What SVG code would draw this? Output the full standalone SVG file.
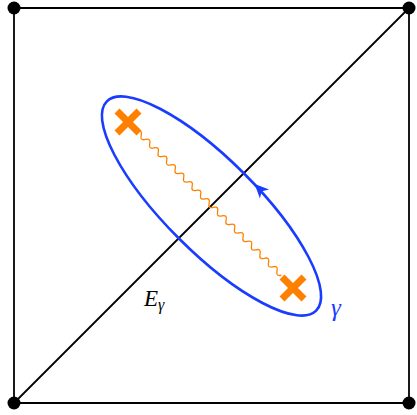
<svg xmlns="http://www.w3.org/2000/svg" width="417" height="415" viewBox="0 0 417 415">
<style>
.edge{stroke:#000;stroke-width:1.8;fill:none}
.dot{fill:#000}
.loop{stroke:#1a3cff;stroke-width:2.6;fill:none}
.cross{stroke:#ff8000;stroke-width:7;fill:none}
.wave{stroke:#ff8000;stroke-width:1.3;fill:none}
.lbl{font-family:"Liberation Serif","DejaVu Serif",serif;font-style:italic}
</style>
<rect width="417" height="415" fill="#fff"/>
<g id="connectors">
<line class="edge" x1="14" y1="8" x2="409" y2="8"/>
<line class="edge" x1="409" y1="8" x2="409" y2="403"/>
<line class="edge" x1="409" y1="403" x2="14" y2="403"/>
<line class="edge" x1="14" y1="403" x2="14" y2="8"/>
<line class="edge" x1="14" y1="403" x2="409" y2="8"/>
<g transform="translate(137,131) rotate(45)">
<path class="wave" d="M0,0 Q3,-5 6,0 t6,0 t6,0 t6,0 t6,0 t6,0 t6,0 t6,0 t6,0 t6,0 t6,0 t6,0 t6,0 t6,0 t6,0 t6,0 t6,0 t6,0 t6,0 t6,0 t6,0 t6,0 t6,0 t6,0 t6,0 t6,0 t6,0 t6,0 t6,0 t6,0 t6,0 t6,0 t6,0 t6,0"/>
</g>
</g>
<g id="corner-tl"><circle class="dot" cx="14" cy="8" r="6.5"/></g>
<g id="corner-tr"><circle class="dot" cx="409" cy="8" r="6.5"/></g>
<g id="corner-bl"><circle class="dot" cx="14" cy="403" r="6.5"/></g>
<g id="corner-br"><circle class="dot" cx="409" cy="403" r="6.5"/></g>
<g id="gamma-loop">
<g transform="translate(211.5,206) rotate(45)">
<ellipse class="loop" cx="0" cy="0" rx="148" ry="46"/>
<path d="M15,-46 L29,-52.5 L25,-46 L29,-39.5 Z" fill="#1a3cff"/>
</g>
<text class="lbl" x="331" y="316" font-size="25" fill="#1a3cff">γ</text>
</g>
<g id="cross-1">
<path class="cross" d="M117,111 L139,133 M139,111 L117,133"/>
</g>
<g id="cross-2">
<path class="cross" d="M282,277 L304,299 M304,277 L282,299"/>
</g>
<g id="label-E">
<text class="lbl" x="144" y="306" font-size="23" fill="#000">E<tspan font-size="16" dy="4">γ</tspan></text>
</g>
</svg>
